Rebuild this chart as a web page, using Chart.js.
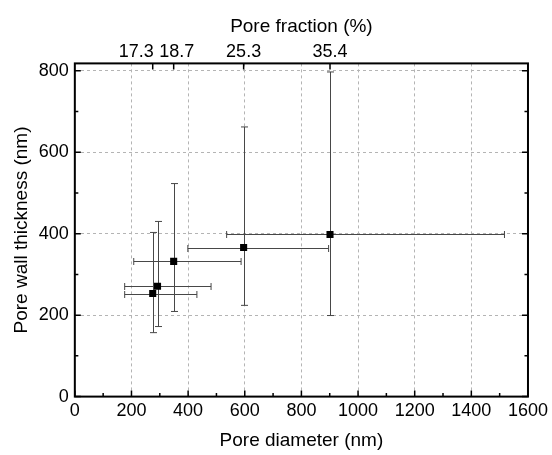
<!DOCTYPE html>
<html>
<head>
<meta charset="utf-8">
<script src="https://cdn.jsdelivr.net/npm/chart.js@4.4.0/dist/chart.umd.min.js"></script>
<style>
html, body { margin: 0; background: #fff; }
#wrap { width: 552px; height: 455px; }
</style>
</head>
<body>
<div id="wrap"><canvas id="chart"></canvas></div>
<script>
// values
const poreDiameter = [275, 292, 349, 596, 901];
const wallThickness = [253, 271, 332, 366, 398];
const diameterLow = [176, 176, 208, 399, 536];
const diameterHigh = [431, 481, 587, 896, 1517];
const thicknessLow = [157, 172, 209, 224, 199];
const thicknessHigh = [403, 430, 523, 662, 797];
// top axis: pore fraction shown at the diameter of the matching sample
const fractionAt = [275, 349, 596, 901];
const fractionLabels = ['17.3', '18.7', '25.3', '35.4'];
const yTicks = [0, 200, 400, 600, 800];

const FONT = 'Liberation Sans, Arial, sans-serif';

const decorations = {
	id: 'decorations',
	beforeDatasetsDraw(chart) {
		const ctx = chart.ctx;
		const x = chart.scales.x, y = chart.scales.y;
		ctx.save();
		ctx.strokeStyle = '#474747';
		ctx.lineWidth = 1;
		const cap = 3.5;
		for (let i = 0; i < poreDiameter.length; i++) {
			const px = Math.round(x.getPixelForValue(poreDiameter[i])) + 0.5;
			const py = Math.round(y.getPixelForValue(wallThickness[i])) + 0.5;
			const xl = x.getPixelForValue(diameterLow[i]), xh = x.getPixelForValue(diameterHigh[i]);
			const yl = y.getPixelForValue(thicknessLow[i]), yh = y.getPixelForValue(thicknessHigh[i]);
			ctx.beginPath();
			ctx.moveTo(xl, py); ctx.lineTo(xh, py);
			ctx.moveTo(xl, py - cap); ctx.lineTo(xl, py + cap);
			ctx.moveTo(xh, py - cap); ctx.lineTo(xh, py + cap);
			ctx.moveTo(px, yl); ctx.lineTo(px, yh);
			ctx.moveTo(px - cap, yl); ctx.lineTo(px + cap, yl);
			ctx.moveTo(px - cap, yh); ctx.lineTo(px + cap, yh);
			ctx.stroke();
		}
		ctx.restore();
	},
	afterDraw(chart) {
		const ctx = chart.ctx;
		const a = chart.chartArea;
		const x = chart.scales.x, y = chart.scales.y;
		ctx.save();
		ctx.strokeStyle = '#000';
		ctx.lineWidth = 1.5;
		// inward ticks, majors and minors
		ctx.beginPath();
		for (let v = 0; v <= 1600; v += 100) {
			const len = v % 200 === 0 ? 6 : 3.5;
			const px = x.getPixelForValue(v);
			ctx.moveTo(px, a.bottom); ctx.lineTo(px, a.bottom - len);
		}
		for (let v = 0; v <= 800; v += 100) {
			const len = v % 200 === 0 ? 6 : 3.5;
			const py = y.getPixelForValue(v);
			ctx.moveTo(a.left, py); ctx.lineTo(a.left + len, py);
			ctx.moveTo(a.right, py); ctx.lineTo(a.right - len, py);
		}
		fractionAt.forEach(v => {
			const px = x.getPixelForValue(v);
			ctx.moveTo(px, a.top); ctx.lineTo(px, a.top + 6);
		});
		ctx.stroke();
		ctx.lineWidth = 2;
		ctx.strokeRect(a.left, a.top, a.right - a.left, a.bottom - a.top);
		// top axis labels (first one pushed left so it does not collide)
		ctx.fillStyle = '#000';
		ctx.font = '18px ' + FONT;
		ctx.textBaseline = 'alphabetic';
		fractionLabels.forEach((lab, i) => {
			const px = x.getPixelForValue(fractionAt[i]);
			if (i === 0) { ctx.textAlign = 'right'; ctx.fillText(lab, px + 1, a.top - 6); }
			else { ctx.textAlign = 'center'; ctx.fillText(lab, px + (i === 1 ? 3 : 0), a.top - 6); }
		});
		ctx.restore();
	}
};

new Chart(document.getElementById('chart'), {
	type: 'scatter',
	data: {
		datasets: [{
			data: poreDiameter.map((d, i) => ({ x: d, y: wallThickness[i] })),
			pointStyle: 'rect',
			pointRadius: 5,
			pointHoverRadius: 5,
			backgroundColor: '#000',
			borderColor: '#000',
			borderWidth: 0
		}]
	},
	options: {
		responsive: true,
		maintainAspectRatio: false,
		animation: false,
		devicePixelRatio: 1,
		layout: { padding: { left: 10, right: 0, top: 15, bottom: 3 } },
		plugins: { legend: { display: false }, tooltip: { enabled: false } },
		scales: {
			x: {
				type: 'linear',
				position: 'bottom',
				min: 0,
				max: 1600,
				ticks: { stepSize: 200, color: '#000', font: { family: FONT, size: 18 }, padding: 4, maxRotation: 0,
					callback: v => String(v) },
				grid: { color: '#b4b4b4', lineWidth: 1, drawTicks: false },
				border: { display: false, dash: [3, 3] },
				title: { display: true, text: 'Pore diameter (nm)', color: '#000', font: { family: FONT, size: 19 }, padding: { top: 3, bottom: 0 } }
			},
			x2: {
				type: 'linear',
				position: 'top',
				min: 0,
				max: 1600,
				afterBuildTicks: s => { s.ticks = fractionAt.map(v => ({ value: v })); },
				ticks: { autoSkip: false, color: 'rgba(0,0,0,0)', font: { family: FONT, size: 18 }, padding: 2, maxRotation: 0,
					callback: (v, i) => fractionLabels[i] },
				grid: { display: false, drawTicks: false },
				border: { display: false },
				title: { display: true, text: 'Pore fraction (%)', color: '#000', font: { family: FONT, size: 19 }, padding: { top: 0, bottom: 0 } }
			},
			y: {
				type: 'linear',
				min: 0,
				max: 818,
				afterBuildTicks: s => { s.ticks = yTicks.map(v => ({ value: v })); },
				ticks: { color: '#000', font: { family: FONT, size: 18 }, padding: 6, callback: v => String(v) },
				grid: { color: '#b4b4b4', lineWidth: 1, drawTicks: false },
				border: { display: false, dash: [3, 3] },
				title: { display: true, text: 'Pore wall thickness (nm)', color: '#000', font: { family: FONT, size: 19 }, padding: { top: 0, bottom: 0 } }
			}
		}
	},
	plugins: [decorations]
});
</script>
</body>
</html>
